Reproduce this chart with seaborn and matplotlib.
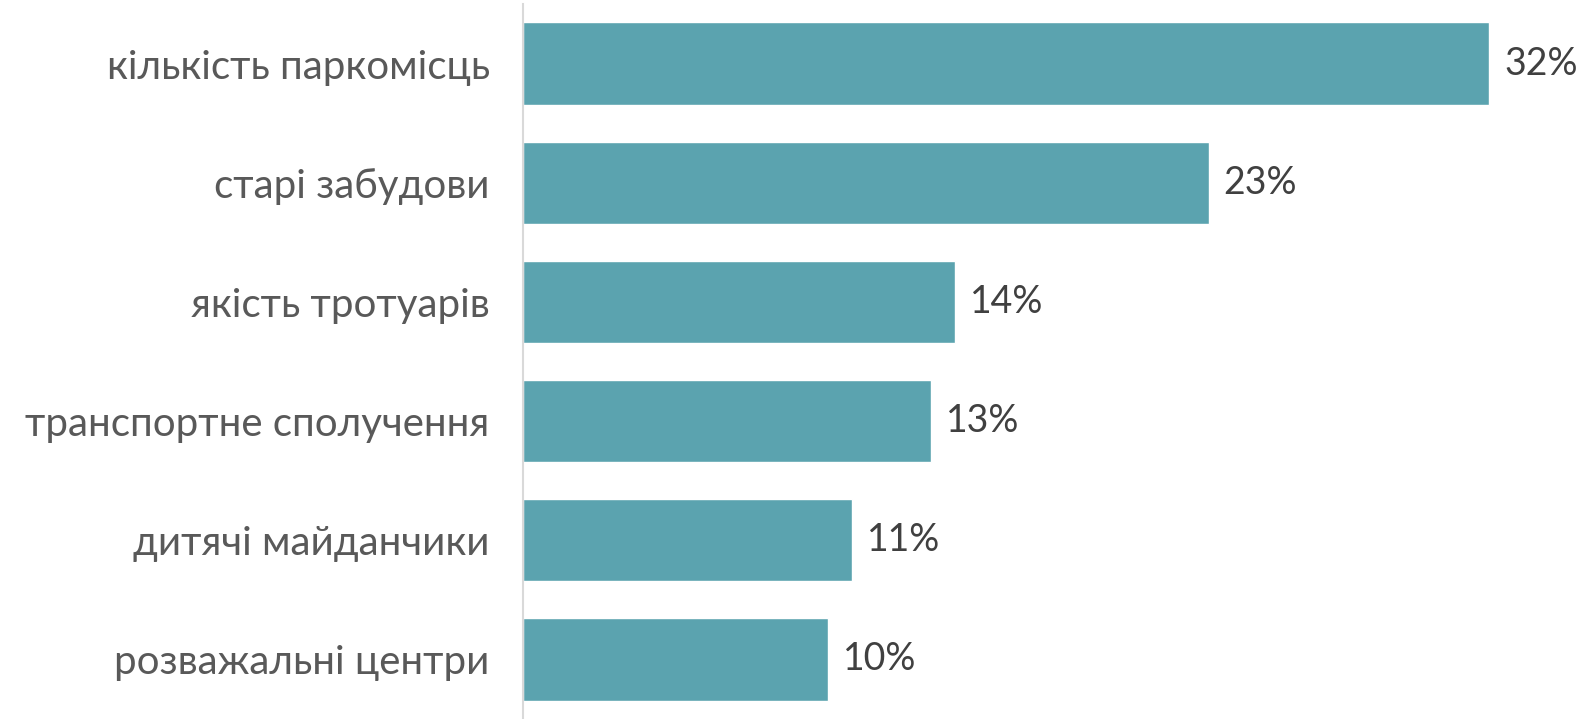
import numpy as np
import pandas as pd
import matplotlib.pyplot as plt
import seaborn as sns

# Data
categories = ['кількість паркомісць', 'старі забудови', 'якість тротуарів',
              'транспортне сполучення', 'дитячі майданчики', 'розважальні центри']
values = [32.0, 22.7, 14.3, 13.5, 10.9, 10.1]
labels = ['32%', '23%', '14%', '13%', '11%', '10%']

df = pd.DataFrame({'category': categories, 'value': values})

sns.set_theme(style='white')
plt.rcParams['font.family'] = ['Lato', 'DejaVu Sans']

fig = plt.figure(figsize=(15.83, 7.19), dpi=100)
ax = fig.add_axes([523 / 1583, 0.0, 1 - 523 / 1583, 1 - 4 / 719])

bar_color = '#5BA3AF'
sns.barplot(data=df, x='value', y='category', color=bar_color, width=0.69,
            saturation=1, ax=ax)

ax.set_xlim(0, 35.1)
ax.set_ylim(5.5, -0.5)

# value labels
for i, (v, lab) in enumerate(zip(values, labels)):
    ax.text(v + 0.5, i, lab, va='center', ha='left',
            fontsize=27, color='#404040')

ax.set_xlabel('')
ax.set_ylabel('')
ax.set_xticks([])
ax.tick_params(axis='y', length=0, pad=24, labelsize=29, labelcolor='#595959')

for s in ['top', 'right', 'bottom']:
    ax.spines[s].set_visible(False)
ax.spines['left'].set_color('#D9D9D9')
ax.spines['left'].set_linewidth(1.5)

plt.savefig('out.png', dpi=100)
